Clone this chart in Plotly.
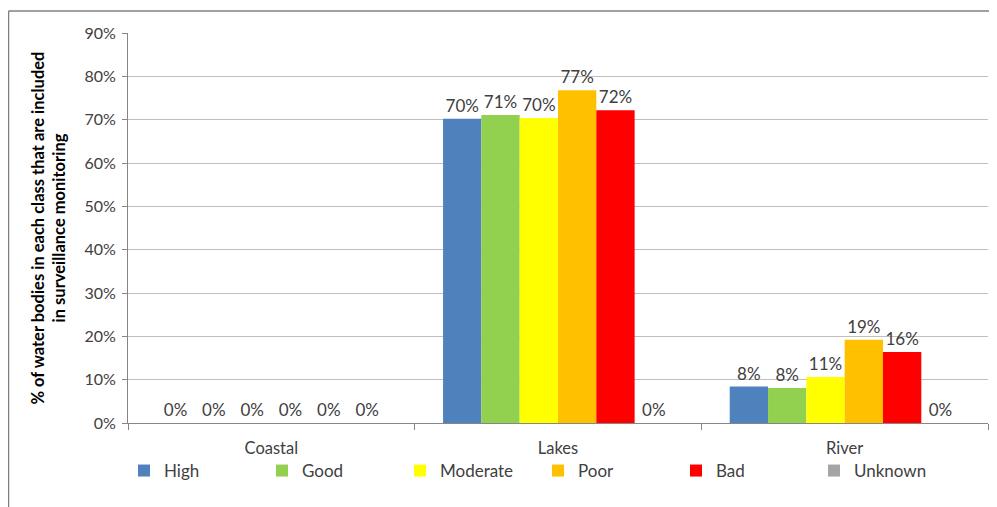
import plotly.graph_objects as go

categories = ["Coastal", "Lakes", "River"]
series_names = ["High", "Good", "Moderate", "Poor", "Bad", "Unknown"]
high = [0.0, 0.702, 0.084]
good = [0.0, 0.711, 0.081]
moderate = [0.0, 0.704, 0.106]
poor = [0.0, 0.768, 0.192]
bad = [0.0, 0.722, 0.164]
unknown = [0.0, 0.0, 0.0]
colors = ["#4F81BD", "#92D050", "#FFFF00", "#FFC000", "#FF0000", "#A5A5A5"]
y_ticks = [0, 0.1, 0.2, 0.3, 0.4, 0.5, 0.6, 0.7, 0.8, 0.9]

series_values = [high, good, moderate, poor, bad, unknown]
FONT = "Lato, Carlito, 'Liberation Sans', sans-serif"
TXT = "#404040"

fig = go.Figure()
for name, vals, col in zip(series_names, series_values, colors):
    fig.add_trace(go.Bar(
        name=name, x=categories, y=vals, marker=dict(color=col, line=dict(width=0)),
        text=[f"{v:.0%}" for v in vals], textposition="outside",
        textfont=dict(family=FONT, size=17, color=TXT), cliponaxis=False,
    ))

OFF = 8  # page body margin
W, H = 997 - OFF, 507 - OFF
L, R, T, B = 120, 9, 25, 84
pw, ph = W - L - R, H - T - B

def px_x(p):
    return (p - OFF - L) / pw

def px_y(p):
    return (H - B - (p - OFF)) / ph

fig.update_layout(
    width=W, height=H, barmode="group", bargap=0.198, bargroupgap=0,
    margin=dict(l=L, r=R, t=T, b=B, autoexpand=False),
    paper_bgcolor="white", plot_bgcolor="white",
    font=dict(family=FONT, size=16, color=TXT),
    showlegend=True,
    legend=dict(orientation="h", x=px_x(124), y=px_y(471), xanchor="left", yanchor="middle",
                entrywidth=93, entrywidthmode="pixels", itemwidth=30,
                font=dict(family=FONT, size=17, color=TXT), traceorder="normal",
                bgcolor="rgba(0,0,0,0)"),
    yaxis=dict(range=[0, 0.9], tickvals=y_ticks, tickformat=".0%", showgrid=True,
               gridcolor="#BFBFBF", gridwidth=1, showline=True, linecolor="#868686",
               ticks="outside", ticklen=5, tickcolor="#868686", zeroline=False,
               ticklabelstandoff=3,
               tickfont=dict(family=FONT, size=16, color=TXT),
               title=dict(text="% of water bodies in each class that are included<br>in surveillance monitoring",
                          font=dict(family=FONT, size=16.5, color="#000000", weight="bold"), standoff=14)),
    xaxis=dict(showline=True, linecolor="#868686", ticks="outside", ticklen=6,
               tickcolor="#868686", tickson="boundaries", showgrid=False,
               ticklabelstandoff=10,
               tickfont=dict(family=FONT, size=16.5, color=TXT)),
    shapes=[
        dict(type="line", xref="paper", yref="paper", x0=px_x(8.5), x1=px_x(1000),
             y0=px_y(11), y1=px_y(11), line=dict(color="#808080", width=1.5)),
        dict(type="line", xref="paper", yref="paper", x0=px_x(8.5), x1=px_x(8.5),
             y0=px_y(11), y1=px_y(520), line=dict(color="#808080", width=1.5)),
    ],
)
fig.write_html("out.html")
